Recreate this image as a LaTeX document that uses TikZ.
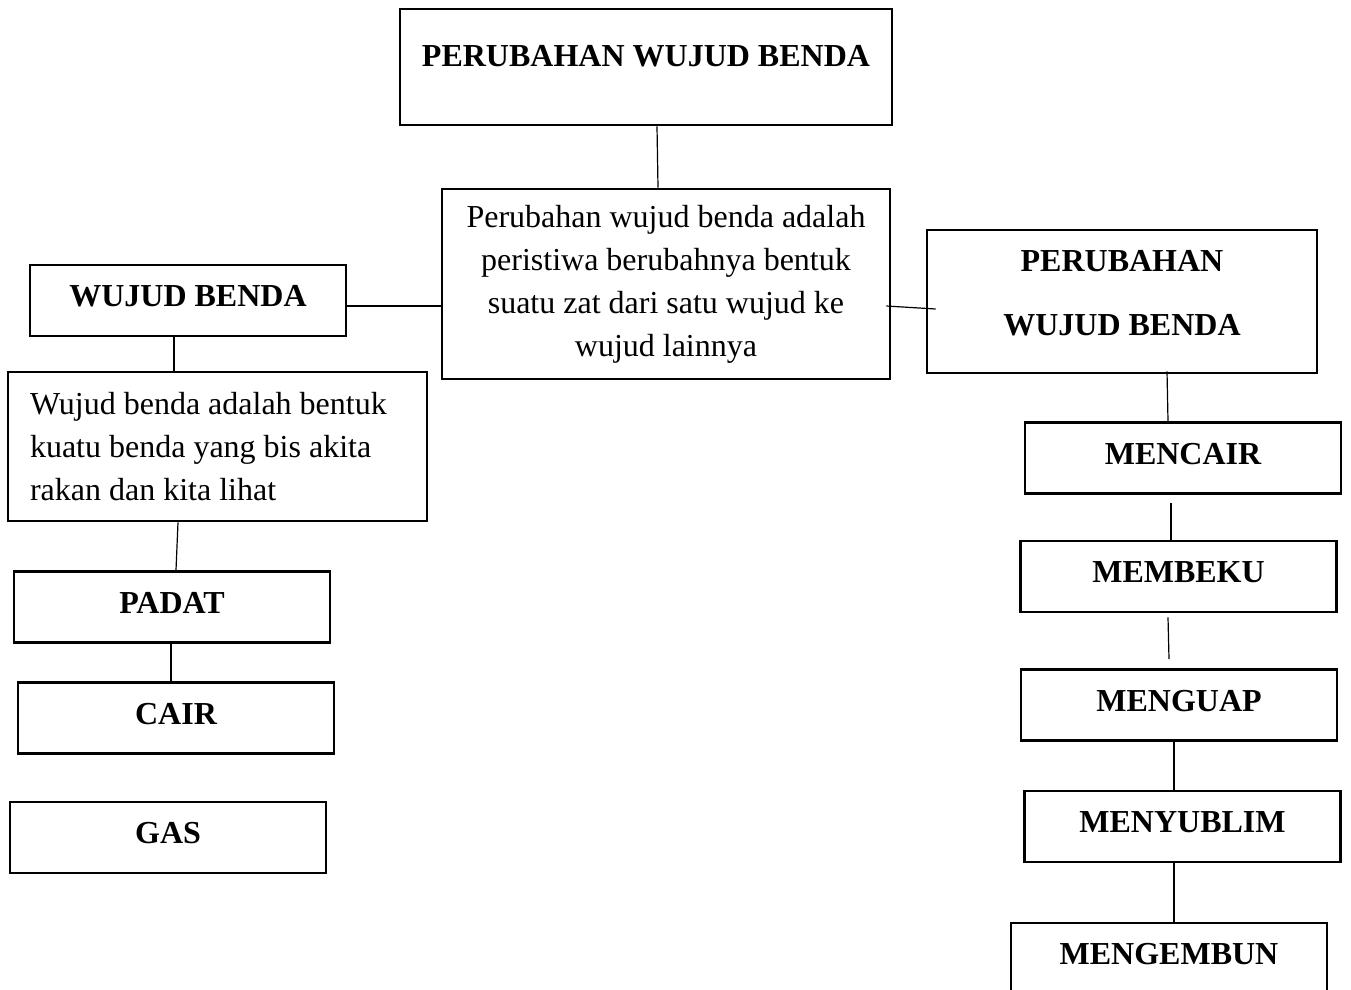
\documentclass[tikz,border=0pt]{standalone}
\usepackage{fontspec}
\setmainfont{Liberation Serif}
\begin{document}
\begin{tikzpicture}
[x=1pt,y=-1pt,every node/.style={draw,line width=2.6pt,inner sep=0pt},
kotak/.style={minimum width=316pt,minimum height=71pt,font=\fontsize{32}{43}\selectfont\bfseries,text height=21pt,text depth=9pt},
isi/.style={font=\fontsize{32}{43}\selectfont,inner xsep=19pt}]
\useasboundingbox (0,0) rectangle (1351,989);
\node[kotak,minimum width=492pt,minimum height=116pt,text depth=22pt] (judul) at (646,67) {PERUBAHAN WUJUD BENDA};
\node[isi,align=center,minimum width=448pt,minimum height=190pt] (defubah) at (666,284) {Perubahan wujud benda adalah\\peristiwa berubahnya bentuk\\suatu zat dari satu wujud ke\\wujud lainnya};
\node[kotak] (wujud) at (188,300.5) {WUJUD BENDA};
\node[isi,text width=375pt,inner xsep=22pt,align=left,minimum height=149pt] (defwujud) at (217.5,446.5) {\spaceskip=0pt\xspaceskip=0pt Wujud benda adalah bentuk\\kuatu benda yang bis akita\\rakan dan kita lihat};
\node[kotak] (padat) at (172,607) {PADAT};
\node[kotak] (cair) at (176,718) {CAIR};
\node[kotak] (gas) at (168,837.5) {GAS};
\node[isi,font=\fontsize{32}{64}\selectfont\bfseries,align=center,minimum width=390pt,minimum height=143pt,text depth=17pt] (ubah) at (1122,301.5) {PERUBAHAN\\WUJUD BENDA};
\node[kotak] (mencair) at (1183,458) {MENCAIR};
\node[kotak] (membeku) at (1178.5,576.5) {MEMBEKU};
\node[kotak] (menguap) at (1179,705) {MENGUAP};
\node[kotak] (menyublim) at (1182.5,826.5) {MENYUBLIM};
\node[kotak] (mengembun) at (1169,958.5) {MENGEMBUN};
% garis penghubung
\foreach \a/\ax/\ay/\b/\bx/\by in {judul/11/0/defubah/-8/0, wujud/-14/0/defwujud/-43.5/0,
  defwujud/-39.5/0/padat/4/0, padat/-1/0/cair/-5/0, ubah/45/-3/mencair/-15/0,
  mencair/-12/8/membeku/-7.5/0, membeku/-10.5/4/menguap/-10/-9,
  menguap/-5/0/menyublim/-8.5/0, menyublim/-8.5/0/mengembun/5/0}
\draw[line width=1.2pt] ([shift={(\ax,\ay)}]\a.south) -- ([shift={(\bx,\by)}]\b.north);
\draw[line width=1.2pt] ([shift={(0,5.5)}]wujud.east) -- ([shift={(0,22)}]defubah.west);
\draw[line width=1.2pt] ([shift={(-5,22)}]defubah.east) -- ([shift={(10,7.5)}]ubah.west);
\end{tikzpicture}
\end{document}
